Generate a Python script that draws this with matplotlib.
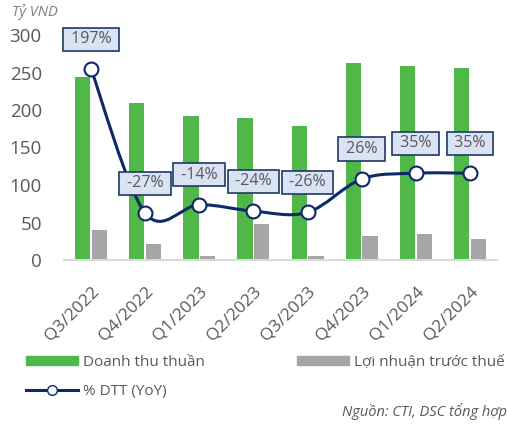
import numpy as np
import matplotlib
matplotlib.use('Agg')
import matplotlib.pyplot as plt
from matplotlib.path import Path
from matplotlib.patches import PathPatch, Patch
from matplotlib.lines import Line2D

#----------data----------------------------------------------------------------
quarters = ['Q3/2022', 'Q4/2022', 'Q1/2023', 'Q2/2023',
            'Q3/2023', 'Q4/2023', 'Q1/2024', 'Q2/2024']
revenue = [244, 209, 192, 190, 179, 263, 259, 256]      # Doanh thu thuan
pretax = [40, 21, 5, 48, 5, 32, 35, 28]                # Loi nhuan truoc thue
yoy = [197, -27, -14, -24, -26, 26, 35, 35]            # % DTT (YoY)

GREEN = '#50B848'
GREY = '#A6A6A6'
NAVY = '#0B2A66'
TXT = '#595959'

plt.rcParams['font.family'] = ['Open Sans', 'DejaVu Sans']

fig = plt.figure(figsize=(5.07, 4.24), dpi=100)
ax = fig.add_axes([64/507, 1-260/424, 433/507, 225/424])
ax2 = ax.twinx()

x = np.arange(len(quarters))
w = 0.28
ax.bar(x - 0.155, revenue, w, color=GREEN, zorder=2)
ax.bar(x + 0.155, pretax, w, color=GREY, zorder=2)

ax.set_xlim(-0.5, len(quarters) - 0.5)
ax.set_ylim(0, 300)
ax.set_yticks(range(0, 301, 50))
ax.tick_params(axis='y', length=0, pad=16, labelsize=13.5, labelcolor=TXT)
ax.set_xticks(x)
ax.set_xticklabels(quarters, rotation=45, ha='right', va='top',
                   rotation_mode='anchor')
ax.tick_params(axis='x', length=0, pad=17, labelsize=12.5, labelcolor=TXT)
for s in ['top', 'right', 'left']:
    ax.spines[s].set_visible(False)
ax.spines['bottom'].set_color('#D9D9D9')
ax.spines['bottom'].set_linewidth(1.5)

#------smoothed yoy line on hidden secondary axis------------------------------
ax2.set_ylim(-100, 250)
ax2.set_yticks([])
for s in ax2.spines.values():
    s.set_visible(False)

pts = list(zip(x, yoy))
verts = [pts[0]]
codes = [Path.MOVETO]
for i in range(len(pts) - 1):
    p0 = pts[i - 1] if i > 0 else pts[i]
    p1 = pts[i]
    p2 = pts[i + 1]
    p3 = pts[i + 2] if i + 2 < len(pts) else pts[i + 1]
    c1 = (p1[0] + (p2[0] - p0[0]) / 6, p1[1] + (p2[1] - p0[1]) / 6)
    c2 = (p2[0] - (p3[0] - p1[0]) / 6, p2[1] - (p3[1] - p1[1]) / 6)
    verts += [c1, c2, p2]
    codes += [Path.CURVE4] * 3
ax2.add_patch(PathPatch(Path(verts, codes), fill=False, edgecolor=NAVY,
                        lw=2.2, zorder=3))
ax2.plot(x, yoy, linestyle='none', marker='o', markersize=10,
         markerfacecolor='white', markeredgecolor=NAVY, markeredgewidth=1.5,
         zorder=4)

for xi, p in zip(x, yoy):
    ax2.annotate(f' {p}% ', (xi, p), xytext=(0, 30), textcoords='offset pixels',
                 ha='center', va='center', fontsize=11.5, color=TXT, zorder=5,
                 annotation_clip=False,
                 bbox=dict(boxstyle='square,pad=0.22', fc='#DAE3F3',
                           ec='#1F3864', lw=1.2))

#------texts and legend---------------------------------------------------------
fig.text(12/507, 1-12/424, 'Tỷ VND', style='italic', color='#7F7F7F',
         fontsize=10.5, ha='left', va='center')
fig.text(1.0, 1-412/424, 'Nguồn: CTI, DSC tổng hợp', style='italic',
         color=TXT, fontsize=10.5, ha='right', va='center')

handles = [Patch(color=GREEN, label='Doanh thu thuần'),
           Line2D([], [], color=NAVY, lw=2.2, marker='o', markersize=7,
                  markerfacecolor='white', markeredgecolor=NAVY,
                  label='% DTT (YoY)'),
           Patch(color=GREY, label='Lợi nhuận trước thuế')]
fig.legend(handles=handles, ncol=2, loc='upper left',
           bbox_to_anchor=(20/507, 1-349/424), frameon=False,
           fontsize=11, labelcolor=TXT, handlelength=3.4, handleheight=0.5,
           handletextpad=0.33, columnspacing=6.0, labelspacing=0.9,
           borderaxespad=0)

plt.savefig('out.png', dpi=100)
